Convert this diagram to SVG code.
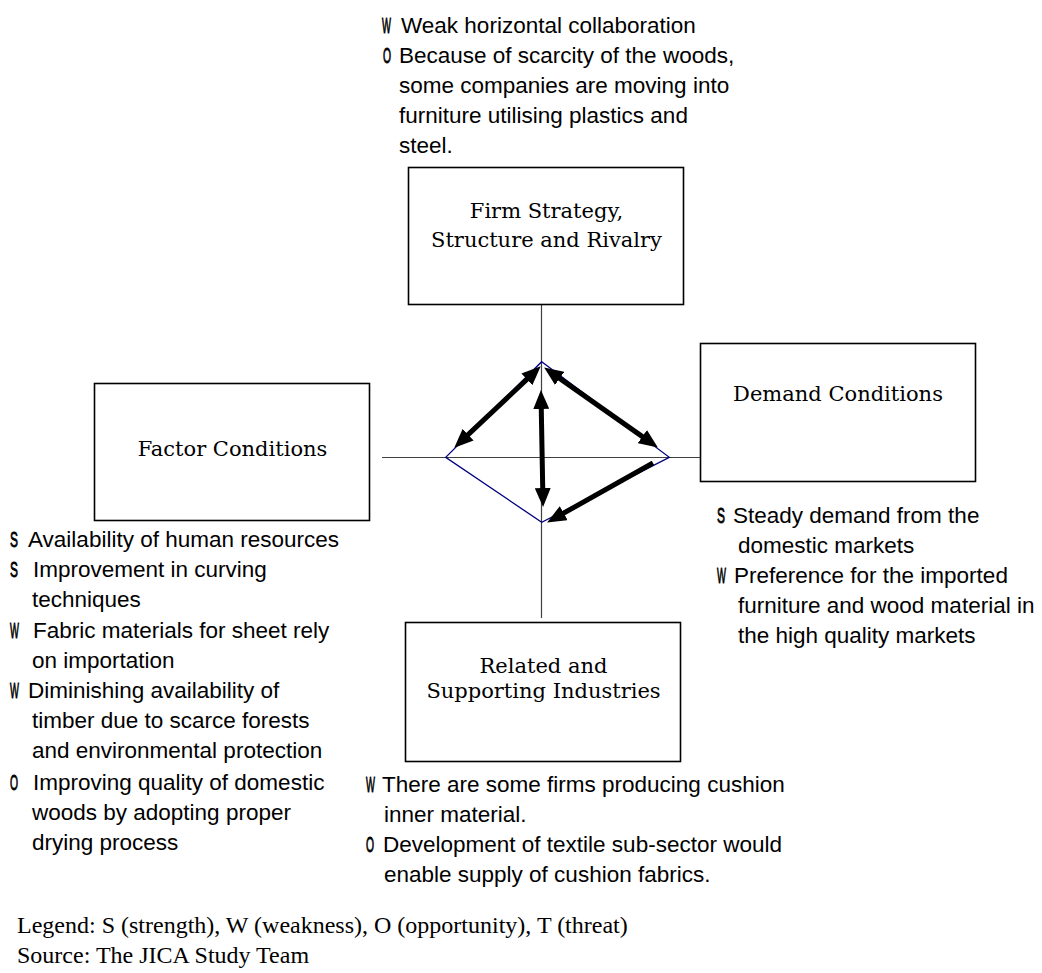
<svg xmlns="http://www.w3.org/2000/svg" width="1042" height="973" viewBox="0 0 1042 973">
<style>
.box{fill:#fff;stroke:#000;stroke-width:1.6}
.ttl{font-family:"DejaVu Serif","Liberation Serif",serif;font-size:21px;fill:#000;text-anchor:middle}
.t{font-family:"Liberation Sans",Arial,sans-serif;font-size:22.5px;fill:#000}
.b{font-family:"Liberation Sans",Arial,sans-serif;font-size:22.5px;fill:#000;stroke:#000;stroke-width:0.9}
.leg{font-family:"Liberation Serif","Times New Roman",serif;font-size:24px;fill:#000}
.axis{stroke:#404040;stroke-width:1.2;fill:none}
.dia{stroke:#000080;stroke-width:1.3;fill:none}
.arr{stroke:#000;stroke-width:5;fill:none}
</style>
<defs>
<marker id="ah" markerUnits="userSpaceOnUse" markerWidth="20" markerHeight="16" viewBox="0 0 20 16" refX="4" refY="8" orient="auto-start-reverse">
<path d="M0,0 L19,8 L0,16 z" fill="#000"/>
</marker>
</defs>
<rect width="1042" height="973" fill="#fff"/>

<g id="connectors">
<line class="axis" x1="541.5" y1="305" x2="541.5" y2="618"/>
<line class="axis" x1="382" y1="457.5" x2="700" y2="457.5"/>
<polygon class="dia" points="541.7,361.7 669.3,457.3 541.7,522.3 445.7,457.3"/>
<line class="arr" x1="529.8" y1="376.6" x2="465.2" y2="437.4" marker-start="url(#ah)" marker-end="url(#ah)"/>
<line class="arr" x1="556.4" y1="376.1" x2="645.6" y2="438.9" marker-start="url(#ah)" marker-end="url(#ah)"/>
<line class="arr" x1="541.2" y1="405" x2="542.8" y2="492" marker-start="url(#ah)" marker-end="url(#ah)"/>
<line class="arr" x1="653" y1="463" x2="560.2" y2="515.1" marker-end="url(#ah)"/>
</g>

<g id="firm">
<rect class="box" x="408.5" y="167.5" width="275" height="137"/>
<text class="ttl" x="546.5" y="218">Firm Strategy,</text>
<text class="ttl" x="546.5" y="247">Structure and Rivalry</text>
</g>

<g id="factor">
<rect class="box" x="94.5" y="383.5" width="275" height="137"/>
<text class="ttl" x="232.5" y="456">Factor Conditions</text>
</g>

<g id="demand">
<rect class="box" x="700.5" y="343.5" width="275" height="138"/>
<text class="ttl" x="838" y="401">Demand Conditions</text>
</g>

<g id="related">
<rect class="box" x="405.5" y="622.5" width="275" height="139"/>
<text class="ttl" x="543.5" y="673">Related and</text>
<text class="ttl" x="543.5" y="698">Supporting Industries</text>
</g>

<g id="firm-notes">
<text class="b" transform="translate(382,33) scale(0.42,1)">W</text>
<text class="t" x="401" y="33">Weak horizontal collaboration</text>
<text class="b" transform="translate(383,63) scale(0.46,1)">O</text>
<text class="t" x="399" y="63">Because of scarcity of the woods,</text>
<text class="t" x="399" y="93">some companies are moving into</text>
<text class="t" x="399" y="123">furniture utilising plastics and</text>
<text class="t" x="399" y="153">steel.</text>
</g>

<g id="factor-notes">
<text class="b" transform="translate(10,547) scale(0.53,1)">S</text>
<text class="t" x="28" y="547">Availability of human resources</text>
<text class="b" transform="translate(10,577) scale(0.53,1)">S</text>
<text class="t" x="33" y="577">Improvement in curving</text>
<text class="t" x="32" y="607">techniques</text>
<text class="b" transform="translate(10,638) scale(0.42,1)">W</text>
<text class="t" x="33" y="638">Fabric materials for sheet rely</text>
<text class="t" x="32" y="668">on importation</text>
<text class="b" transform="translate(10,698) scale(0.42,1)">W</text>
<text class="t" x="28" y="698">Diminishing availability of</text>
<text class="t" x="32" y="728">timber due to scarce forests</text>
<text class="t" x="32" y="758">and environmental protection</text>
<text class="b" transform="translate(10,790) scale(0.46,1)">O</text>
<text class="t" x="33" y="790">Improving quality of domestic</text>
<text class="t" x="32" y="820">woods by adopting proper</text>
<text class="t" x="32" y="850">drying process</text>
</g>

<g id="demand-notes">
<text class="b" transform="translate(717,523) scale(0.53,1)">S</text>
<text class="t" x="733" y="523">Steady demand from the</text>
<text class="t" x="738" y="553">domestic markets</text>
<text class="b" transform="translate(717,583) scale(0.42,1)">W</text>
<text class="t" x="734" y="583">Preference for the imported</text>
<text class="t" x="738" y="613">furniture and wood material in</text>
<text class="t" x="738" y="643">the high quality markets</text>
</g>

<g id="related-notes">
<text class="b" transform="translate(366,792) scale(0.42,1)">W</text>
<text class="t" x="382" y="792">There are some firms producing cushion</text>
<text class="t" x="384" y="822">inner material.</text>
<text class="b" transform="translate(366,852) scale(0.46,1)">O</text>
<text class="t" x="383" y="852">Development of textile sub-sector would</text>
<text class="t" x="384" y="882">enable supply of cushion fabrics.</text>
</g>

<g id="legend">
<text class="leg" x="17" y="933">Legend: S (strength), W (weakness), O (opportunity), T (threat)</text>
<text class="leg" x="17" y="963">Source: The JICA Study Team</text>
</g>
</svg>
